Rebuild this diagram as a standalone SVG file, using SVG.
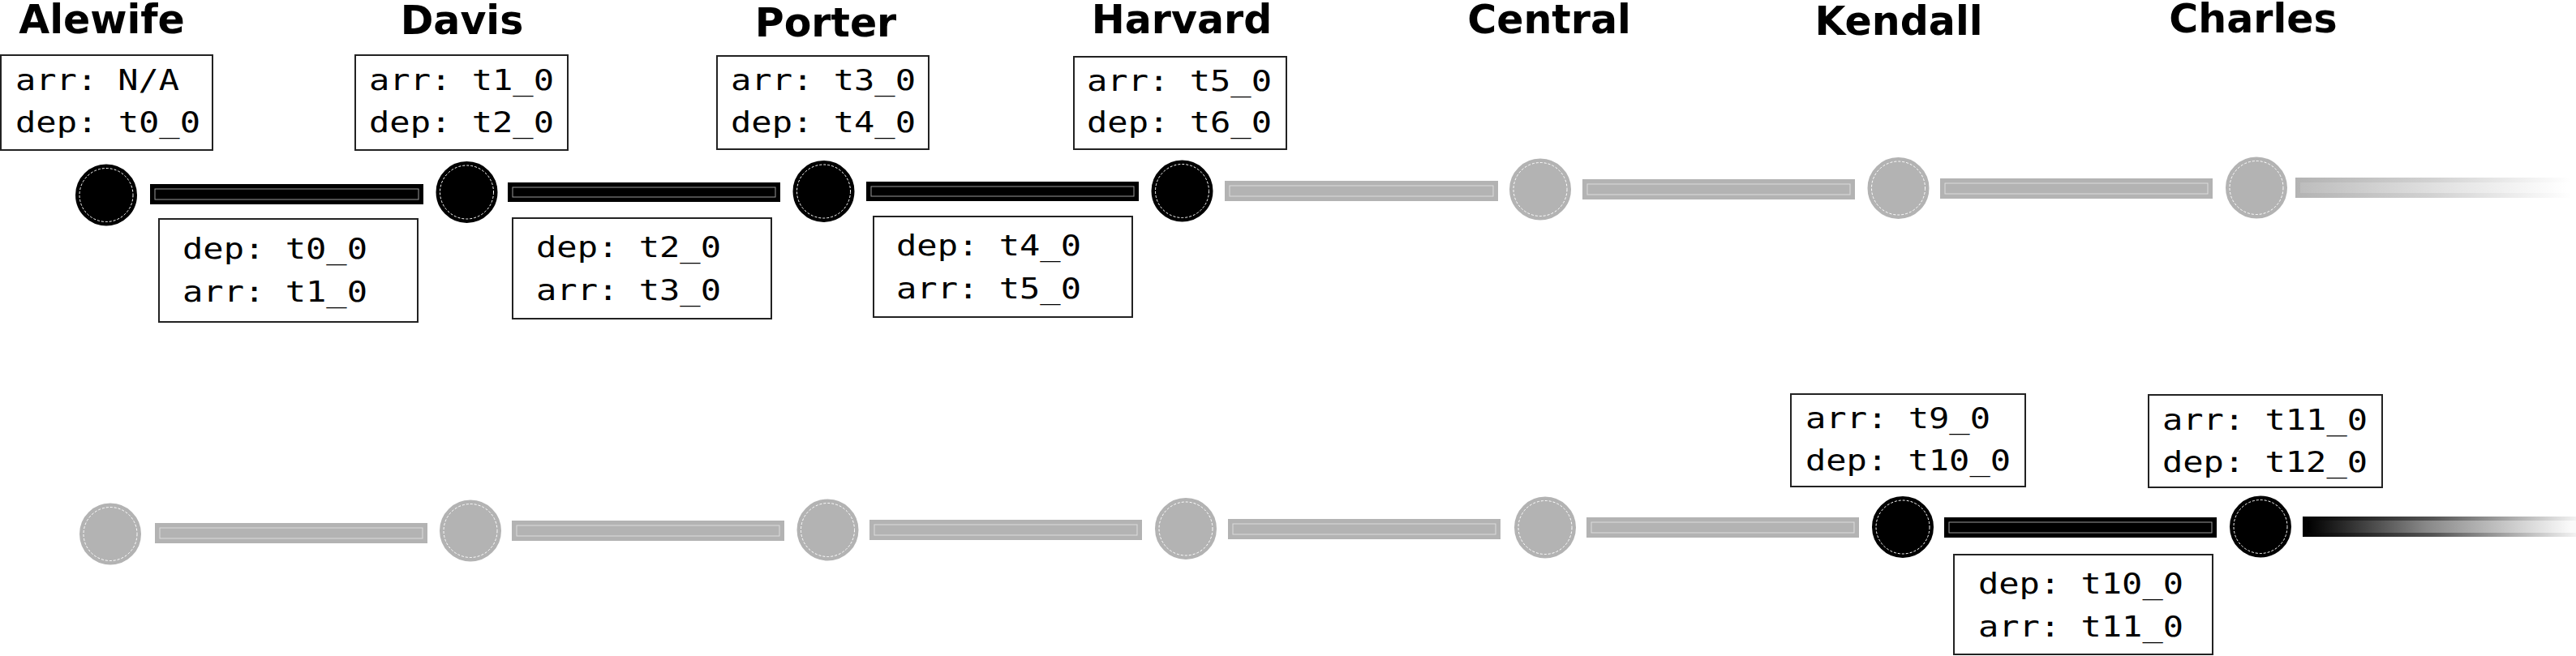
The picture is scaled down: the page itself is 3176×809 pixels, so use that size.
<svg xmlns="http://www.w3.org/2000/svg" width="3176" height="809" viewBox="0 0 3176 809">
<style>
.title{font-family:"DejaVu Sans","Liberation Sans",sans-serif;font-weight:bold;font-size:49px;text-anchor:middle;fill:#000}
.lbl{font-family:"DejaVu Sans Mono","Liberation Mono",monospace;font-size:36px;fill:#000}
.box{fill:#fff;stroke:#222;stroke-width:2}
.stA{fill:#000;stroke:#000;stroke-width:5}
.stI{fill:#b3b3b3;stroke:#b3b3b3;stroke-width:5}
.ring{fill:none;stroke:#fff;stroke-width:1;stroke-dasharray:3 2}
.barA{fill:#000}
.barI{fill:#b3b3b3}
.inA{fill:none;stroke:#9a9a9a;stroke-width:1}
.inI{fill:none;stroke:#dcdcdc;stroke-width:1}
</style>
<defs>
<linearGradient id="gOutA" gradientUnits="userSpaceOnUse" x1="2839" y1="0" x2="3176" y2="0">
<stop offset="0" stop-color="#000"/><stop offset="0.48" stop-color="#555"/><stop offset="1" stop-color="#f2f2f2"/>
</linearGradient>
<linearGradient id="gInA" gradientUnits="userSpaceOnUse" x1="2845" y1="0" x2="3170" y2="0">
<stop offset="0" stop-color="#000"/><stop offset="0.45" stop-color="#888"/><stop offset="1" stop-color="#fafafa"/>
</linearGradient>
<linearGradient id="gOutI" gradientUnits="userSpaceOnUse" x1="2830" y1="0" x2="3170" y2="0">
<stop offset="0" stop-color="#b3b3b3"/><stop offset="0.5" stop-color="#d2d2d2"/><stop offset="1" stop-color="#fff"/>
</linearGradient>
<linearGradient id="gInI" gradientUnits="userSpaceOnUse" x1="2836" y1="0" x2="3164" y2="0">
<stop offset="0" stop-color="#bdbdbd"/><stop offset="0.5" stop-color="#e0e0e0"/><stop offset="1" stop-color="#fff"/>
</linearGradient>
</defs>

<g id="connectors">
<rect class="barA" x="185" y="227" width="337" height="25"/><rect class="inA" x="191" y="233" width="325" height="13"/>
<rect class="barA" x="626" y="225" width="336" height="24"/><rect class="inA" x="632" y="231" width="324" height="12"/>
<rect class="barA" x="1068" y="224" width="336" height="24"/><rect class="inA" x="1074" y="230" width="324" height="12"/>
<rect class="barI" x="1510" y="223" width="337" height="25"/><rect class="inI" x="1516" y="229" width="325" height="13"/>
<rect class="barI" x="1951" y="221" width="336" height="25"/><rect class="inI" x="1957" y="227" width="324" height="13"/>
<rect class="barI" x="2392" y="220" width="336" height="25"/><rect class="inI" x="2398" y="226" width="324" height="13"/>
<rect fill="url(#gOutI)" x="2830" y="219" width="346" height="25"/><rect fill="url(#gInI)" x="2836" y="225" width="340" height="13"/>
<rect class="barI" x="191" y="645" width="336" height="25"/><rect class="inI" x="197" y="651" width="324" height="13"/>
<rect class="barI" x="631" y="642" width="336" height="25"/><rect class="inI" x="637" y="648" width="324" height="13"/>
<rect class="barI" x="1072" y="641" width="336" height="25"/><rect class="inI" x="1078" y="647" width="324" height="13"/>
<rect class="barI" x="1514" y="640" width="336" height="25"/><rect class="inI" x="1520" y="646" width="324" height="13"/>
<rect class="barI" x="1956" y="638" width="336" height="25"/><rect class="inI" x="1962" y="644" width="324" height="13"/>
<rect class="barA" x="2397" y="638" width="336" height="25"/><rect class="inA" x="2403" y="644" width="324" height="13"/>
<rect fill="url(#gOutA)" x="2839" y="637" width="337" height="25"/><rect fill="url(#gInA)" x="2845" y="642" width="331" height="15"/>
</g>

<g id="titles">
<text class="title" x="125.5" y="41">Alewife</text>
<text class="title" x="569.5" y="42">Davis</text>
<text class="title" x="1018" y="45">Porter</text>
<text class="title" x="1457" y="41">Harvard</text>
<text class="title" x="1910" y="41">Central</text>
<text class="title" x="2341" y="43">Kendall</text>
<text class="title" x="2778" y="40">Charles</text>
</g>

<g id="station-alewife-1"><circle class="stA" cx="131" cy="240.5" r="35.5"/><circle class="ring" cx="131" cy="240.5" r="33"/></g>
<g id="station-davis-1"><circle class="stA" cx="575.5" cy="237" r="35.5"/><circle class="ring" cx="575.5" cy="237" r="33"/></g>
<g id="station-porter-1"><circle class="stA" cx="1015.5" cy="236" r="35.5"/><circle class="ring" cx="1015.5" cy="236" r="33"/></g>
<g id="station-harvard-1"><circle class="stA" cx="1457.5" cy="235.5" r="35.5"/><circle class="ring" cx="1457.5" cy="235.5" r="33"/></g>
<g id="station-central-1"><circle class="stI" cx="1899" cy="233.5" r="35.5"/><circle class="ring" cx="1899" cy="233.5" r="33"/></g>
<g id="station-kendall-1"><circle class="stI" cx="2340.5" cy="232" r="35.5"/><circle class="ring" cx="2340.5" cy="232" r="33"/></g>
<g id="station-charles-1"><circle class="stI" cx="2782" cy="231.5" r="35.5"/><circle class="ring" cx="2782" cy="231.5" r="33"/></g>

<g id="station-alewife-2"><circle class="stI" cx="136" cy="658.5" r="35.5"/><circle class="ring" cx="136" cy="658.5" r="33"/></g>
<g id="station-davis-2"><circle class="stI" cx="580" cy="654.5" r="35.5"/><circle class="ring" cx="580" cy="654.5" r="33"/></g>
<g id="station-porter-2"><circle class="stI" cx="1020.5" cy="653.5" r="35.5"/><circle class="ring" cx="1020.5" cy="653.5" r="33"/></g>
<g id="station-harvard-2"><circle class="stI" cx="1462" cy="652" r="35.5"/><circle class="ring" cx="1462" cy="652" r="33"/></g>
<g id="station-central-2"><circle class="stI" cx="1905" cy="650.5" r="35.5"/><circle class="ring" cx="1905" cy="650.5" r="33"/></g>
<g id="station-kendall-2"><circle class="stA" cx="2346" cy="650" r="35.5"/><circle class="ring" cx="2346" cy="650" r="33"/></g>
<g id="station-charles-2"><circle class="stA" cx="2787" cy="649.5" r="35.5"/><circle class="ring" cx="2787" cy="649.5" r="33"/></g>

<g id="times-alewife">
<rect class="box" x="1" y="68" width="261" height="117"/>
<text class="lbl" x="19" y="111" textLength="202" lengthAdjust="spacingAndGlyphs">arr: N/A</text>
<text class="lbl" x="19" y="163" textLength="228" lengthAdjust="spacingAndGlyphs">dep: t0_0</text>
</g>
<g id="times-davis">
<rect class="box" x="438" y="68" width="262" height="117"/>
<text class="lbl" x="455" y="111" textLength="228" lengthAdjust="spacingAndGlyphs">arr: t1_0</text>
<text class="lbl" x="455" y="163" textLength="228" lengthAdjust="spacingAndGlyphs">dep: t2_0</text>
</g>
<g id="times-porter">
<rect class="box" x="884" y="69" width="261" height="115"/>
<text class="lbl" x="901" y="111" textLength="228" lengthAdjust="spacingAndGlyphs">arr: t3_0</text>
<text class="lbl" x="901" y="163" textLength="228" lengthAdjust="spacingAndGlyphs">dep: t4_0</text>
</g>
<g id="times-harvard">
<rect class="box" x="1324" y="70" width="262" height="114"/>
<text class="lbl" x="1340" y="112" textLength="228" lengthAdjust="spacingAndGlyphs">arr: t5_0</text>
<text class="lbl" x="1340" y="163" textLength="228" lengthAdjust="spacingAndGlyphs">dep: t6_0</text>
</g>
<g id="times-kendall">
<rect class="box" x="2208" y="486" width="289" height="114"/>
<text class="lbl" x="2226" y="528" textLength="228" lengthAdjust="spacingAndGlyphs">arr: t9_0</text>
<text class="lbl" x="2226" y="580" textLength="253" lengthAdjust="spacingAndGlyphs">dep: t10_0</text>
</g>
<g id="times-charles">
<rect class="box" x="2649" y="487" width="288" height="114"/>
<text class="lbl" x="2666" y="530" textLength="253" lengthAdjust="spacingAndGlyphs">arr: t11_0</text>
<text class="lbl" x="2666" y="582" textLength="253" lengthAdjust="spacingAndGlyphs">dep: t12_0</text>
</g>

<g id="trip-alewife-davis">
<rect class="box" x="196" y="270" width="319" height="127"/>
<text class="lbl" x="225" y="319" textLength="228" lengthAdjust="spacingAndGlyphs">dep: t0_0</text>
<text class="lbl" x="225" y="372" textLength="228" lengthAdjust="spacingAndGlyphs">arr: t1_0</text>
</g>
<g id="trip-davis-porter">
<rect class="box" x="632" y="269" width="319" height="124"/>
<text class="lbl" x="661" y="317" textLength="228" lengthAdjust="spacingAndGlyphs">dep: t2_0</text>
<text class="lbl" x="661" y="370" textLength="228" lengthAdjust="spacingAndGlyphs">arr: t3_0</text>
</g>
<g id="trip-porter-harvard">
<rect class="box" x="1077" y="267" width="319" height="124"/>
<text class="lbl" x="1105" y="315" textLength="228" lengthAdjust="spacingAndGlyphs">dep: t4_0</text>
<text class="lbl" x="1105" y="368" textLength="228" lengthAdjust="spacingAndGlyphs">arr: t5_0</text>
</g>
<g id="trip-kendall-charles">
<rect class="box" x="2409" y="684" width="319" height="123"/>
<text class="lbl" x="2439" y="732" textLength="253" lengthAdjust="spacingAndGlyphs">dep: t10_0</text>
<text class="lbl" x="2439" y="785" textLength="253" lengthAdjust="spacingAndGlyphs">arr: t11_0</text>
</g>
</svg>
